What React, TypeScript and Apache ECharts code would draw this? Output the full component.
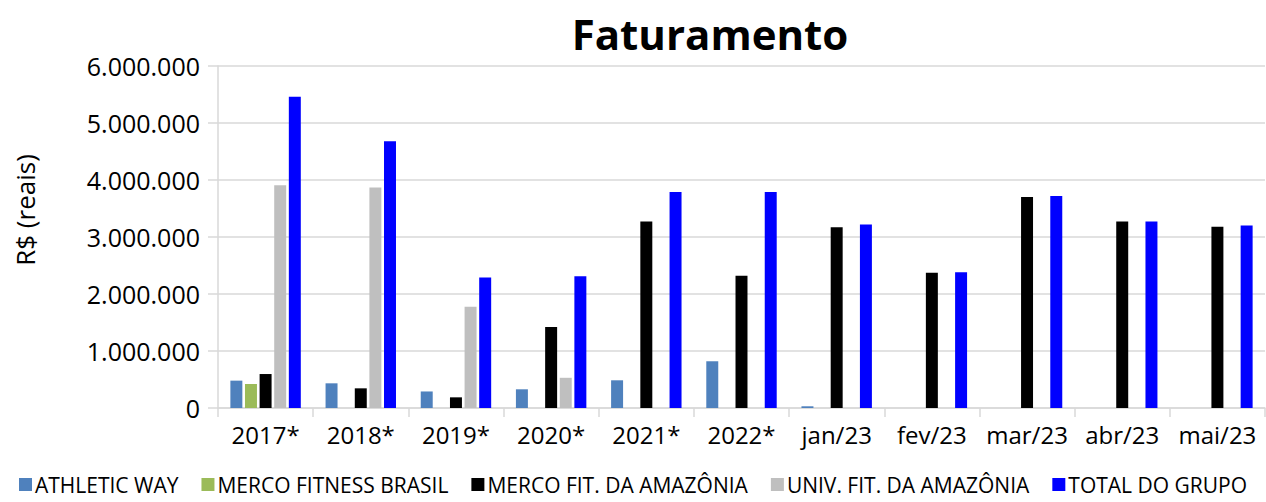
import React, { useEffect, useRef } from "react";
import * as echarts from "echarts";

const categories = ["2017*", "2018*", "2019*", "2020*", "2021*", "2022*", "jan/23", "fev/23", "mar/23", "abr/23", "mai/23"];
const athleticWay = [480000, 433000, 290000, 328000, 486000, 820000, 30000, null, null, null, null];
const mercoFitnessBrasil = [420000, null, null, null, null, null, null, null, null, null, null];
const mercoFitAmazonia = [596000, 345000, 187000, 1420000, 3270000, 2320000, 3170000, 2374000, 3700000, 3270000, 3180000];
const univFitAmazonia = [3907000, 3870000, 1777000, 530000, null, null, null, null, null, null, null];
const totalGrupo = [5460000, 4680000, 2290000, 2310000, 3790000, 3790000, 3220000, 2380000, 3720000, 3270000, 3200000];

const seriesNames = ["ATHLETIC WAY", "MERCO FITNESS BRASIL", "MERCO FIT. DA AMAZÔNIA", "UNIV. FIT. DA AMAZÔNIA", "TOTAL DO GRUPO"];
const seriesColors = ["#4f81bd", "#9bbb59", "#000000", "#bfbfbf", "#0000ff"];
const seriesData = [athleticWay, mercoFitnessBrasil, mercoFitAmazonia, univFitAmazonia, totalGrupo];

const FONT = "'Open Sans', 'Noto Sans', sans-serif";

function fmt(v: number): string {
  return String(Math.round(v)).replace(/\B(?=(\d{3})+(?!\d))/g, ".");
}

export default function App() {
  const ref = useRef<HTMLDivElement>(null);
  useEffect(() => {
    if (!ref.current) return;
    const chart = echarts.init(ref.current, null, { renderer: "svg" });
    chart.setOption({
      animation: false,
      backgroundColor: "#ffffff",
      title: {
        text: "Faturamento",
        left: 705,
        top: 7,
        textAlign: "center",
        textStyle: { fontFamily: FONT, fontSize: 42, fontWeight: "bold", color: "#000" },
      },
      graphic: [
        {
          type: "text",
          x: 25,
          y: 210,
          rotation: Math.PI / 2,
          style: {
            text: "R$ (reais)",
            fontFamily: FONT,
            fontSize: 26,
            fill: "#000",
            textAlign: "center",
            textVerticalAlign: "middle",
          },
        },
      ],
      legend: {
        bottom: 2,
        left: "center",
        itemWidth: 13,
        itemHeight: 13,
        itemGap: 23,
        icon: "rect",
        textStyle: { fontFamily: FONT, fontSize: 21, color: "#000", padding: [0, 0, 0, -2] },
        data: seriesNames,
      },
      grid: { left: 218, right: 1, top: 66, bottom: 94, containLabel: false },
      xAxis: {
        type: "category",
        data: categories,
        axisLine: { show: true, lineStyle: { color: "#d9d9d9", width: 1.5 } },
        axisTick: { show: true, length: 9, alignWithLabel: false, lineStyle: { color: "#d9d9d9", width: 1.5 } },
        axisLabel: { interval: 0, fontFamily: FONT, fontSize: 24, color: "#000", margin: 14 },
      },
      yAxis: {
        type: "value",
        min: 0,
        max: 6000000,
        interval: 1000000,
        axisLine: { show: true, lineStyle: { color: "#d9d9d9", width: 1.5 } },
        axisTick: { show: true, length: 10, lineStyle: { color: "#d9d9d9", width: 1.5 } },
        splitLine: { show: true, lineStyle: { color: "#d9d9d9", width: 1.5 } },
        axisLabel: { fontFamily: FONT, fontSize: 25, color: "#000", margin: 18, formatter: (v: number) => fmt(v) },
      },
      series: seriesNames.map((name, i) => ({
        name,
        type: "bar",
        data: seriesData[i],
        barGap: "22%",
        barCategoryGap: "26%",
        itemStyle: { color: seriesColors[i] },
      })),
    });
    return () => chart.dispose();
  }, []);
  return <div ref={ref} style={{ position: "fixed", left: 0, top: 0, width: 1266, height: 502 }} />;
}
